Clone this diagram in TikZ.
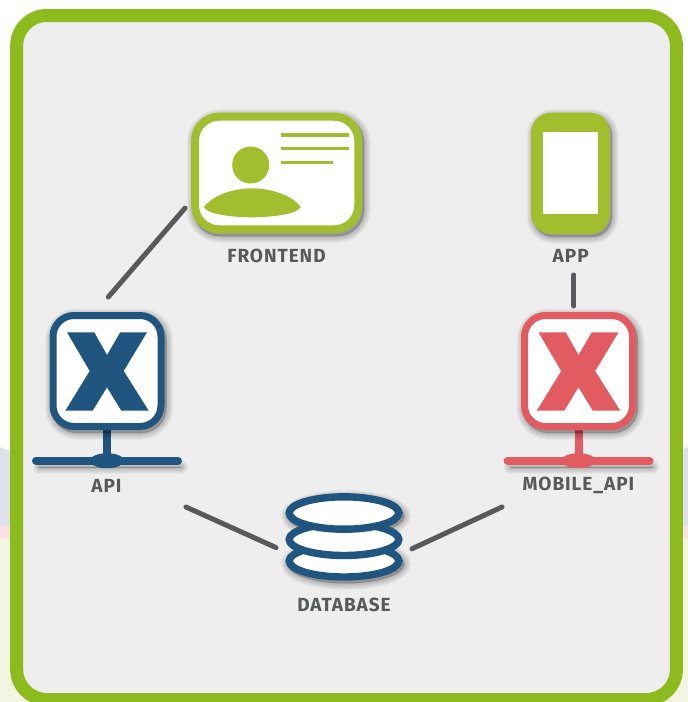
\documentclass[tikz,border=0pt]{standalone}
\usepackage{fontspec}
\setmainfont{Fira Sans}
\newfontfamily\labelfont[LetterSpace=5]{Fira Sans}
\usetikzlibrary{calc}
\definecolor{framegreen}{HTML}{8DBB1E}
\definecolor{panelgray}{HTML}{EEEEEE}
\definecolor{icongreen}{HTML}{A2BE2F}
\definecolor{iconblue}{HTML}{1F557F}
\definecolor{iconred}{HTML}{E25B60}
\definecolor{inkgray}{HTML}{58595B}
\definecolor{bglav}{HTML}{DEE1EB}
\definecolor{bgpink}{HTML}{FBE0E5}
\definecolor{bggreen}{HTML}{F1F5E1}
\newcommand{\softshadow}[2][{(2,3)}]{%
  \begin{scope}[shift={#1}]
    \foreach \lw in {1,3,5,7,9,11,13}{
      \path[fill=black,draw=black,line width=\lw pt,opacity=0.035,line cap=round,line join=round] #2;
    }
  \end{scope}}
\newcommand{\serverbar}[2]{% centre x, colour
  \begin{scope}[shift={(#1,0)}]
    \softshadow[{(3,6)}]{(-71,460.7) -- (71,460.7) -- (71,461.7) -- (-71,461.7) -- cycle}
    \draw[#2,line width=8pt] (0,428) -- (0,458);
    \draw[#2,line width=8pt,line cap=round] (-71,460.7) -- (71,460.7);
    \fill[#2] (0,460.7) ellipse[x radius=17,y radius=7.5];
  \end{scope}}
\newcommand{\serverbox}[2]{% centre x, colour
  \begin{scope}[shift={(#1,371)}]
    \softshadow{[rounded corners=25pt] (-57.5,-59) rectangle (57.5,59)}
    \draw[#2,fill=white,line width=7pt,rounded corners=21pt] (-54,-55.5) rectangle (54,55.5);
    \fill[#2] (-40,-38.7) -- (-12.7,-38.7) -- (0,-16) -- (13.3,-38.7) -- (40,-38.7) -- (16.7,0)
      -- (41.7,39.7) -- (14.3,39.7) -- (0,16.3) -- (-14.3,39.7) -- (-41.7,39.7) -- (-17.3,0) -- cycle;
  \end{scope}}
\tikzset{
  x=1pt,y=-1pt,
  lbl/.style={font=\labelfont\bfseries\fontsize{19}{19}\selectfont,text=inkgray,inner sep=0pt},
  port/.style={inner sep=0pt,draw=none},
  conn/.style={draw=inkgray,line width=5pt,line cap=round},
  dbdisc/.style={draw=iconblue,fill=white,line width=7.4pt},
}
\begin{document}
\begin{tikzpicture}
\clip (0,0) rectangle (688,702);
% page background
\fill[white] (0,0) rectangle (688,702);
\fill[bglav] (0,447) -- (30,460) -- (30,526) -- (0,526) -- cycle;
\fill[bglav] (660,460) -- (688,447) -- (688,526) -- (660,526) -- cycle;
\fill[bgpink] (0,526) rectangle (688,538);
\fill[bggreen] (0,538) rectangle (688,702);
% frame
\draw[framegreen,fill=panelgray,line width=13pt,rounded corners=30pt] (16.7,15.5) rectangle (676.4,699.5);

% anchor boxes for the icons
\node[port,minimum width=171pt,minimum height=120pt,outer sep=6pt] (frontend) at (276.5,173) {};
\node[port,minimum width=115pt,minimum height=118pt,outer sep=15pt] (api) at (107,371) {};
\node[port,minimum width=115pt,minimum height=118pt,outer sep=6pt] (mobile) at (578.5,371) {};
\node[port,minimum width=79pt,minimum height=121pt] (app) at (570.5,173.4) {};
\node[port,minimum width=122pt,minimum height=90pt,outer sep=7pt] (database) at (344,538) {};

% connectors
\draw[conn] (frontend.201.6) -- (api.89);
\draw[conn] (mobile.94) -- (mobile.94 |- 0,275);
\draw[conn] ($(api.south east)+(6.5,62)$) -- (database.188.4);
\draw[conn] (database.351.6) -- ($(mobile.south west)+(-13,71)$);

% frontend card
\softshadow{[rounded corners=27pt] (191,112.7) rectangle (362.3,233.3)}
\draw[icongreen,fill=white,line width=8pt,rounded corners=24pt] (195,116.7) rectangle (358.3,229.3);
\fill[icongreen] (250.7,165) circle[radius=18.5];
\fill[icongreen] (204,207) .. controls (212,196) and (232,188.3) .. (252,188.3)
  .. controls (272,188.3) and (293,196) .. (300.7,207)
  .. controls (298,214) and (272,217.3) .. (252,217.3)
  .. controls (232,217.3) and (206,214) .. (204,207) -- cycle;
\draw[icongreen,line width=3.5pt] (281,135) -- (349,135);
\draw[icongreen,line width=3.5pt] (281,148.7) -- (349,148.7);
\draw[icongreen,line width=3.5pt] (281,162.7) -- (333,162.7);
\node[lbl] (frontendlabel) at (276.5,255.5) {FRONTEND};

% app phone
\softshadow{[rounded corners=20pt] (531,112.7) rectangle (610,234)}
\fill[icongreen,rounded corners=20pt] (531,112.7) rectangle (610,234);
\fill[white] (543,132.3) rectangle (597.7,214.3);
\node[lbl] (applabel) at (570.7,256) {APP};

% servers
\serverbar{107}{iconblue}
\serverbox{107}{iconblue}
\node[lbl] (apilabel) at (106.5,485.5) {API};
\serverbar{578.5}{iconred}
\serverbox{578.5}{iconred}
\node[lbl] (mobilelabel) at (578.5,485.5) {MOBILE\_API};

% database
\softshadow{(344,561) ellipse[x radius=58.5,y radius=19.5]}
\softshadow{(344,513) ellipse[x radius=58.5,y radius=19.5]}
\draw[dbdisc] (344,561) ellipse[x radius=54.8,y radius=16];
\draw[dbdisc] (344,539.5) ellipse[x radius=54.8,y radius=16];
\draw[dbdisc] (344,513) ellipse[x radius=54.8,y radius=16.2];
\node[lbl] (databaselabel) at (344,605) {DATABASE};
\end{tikzpicture}
\end{document}
